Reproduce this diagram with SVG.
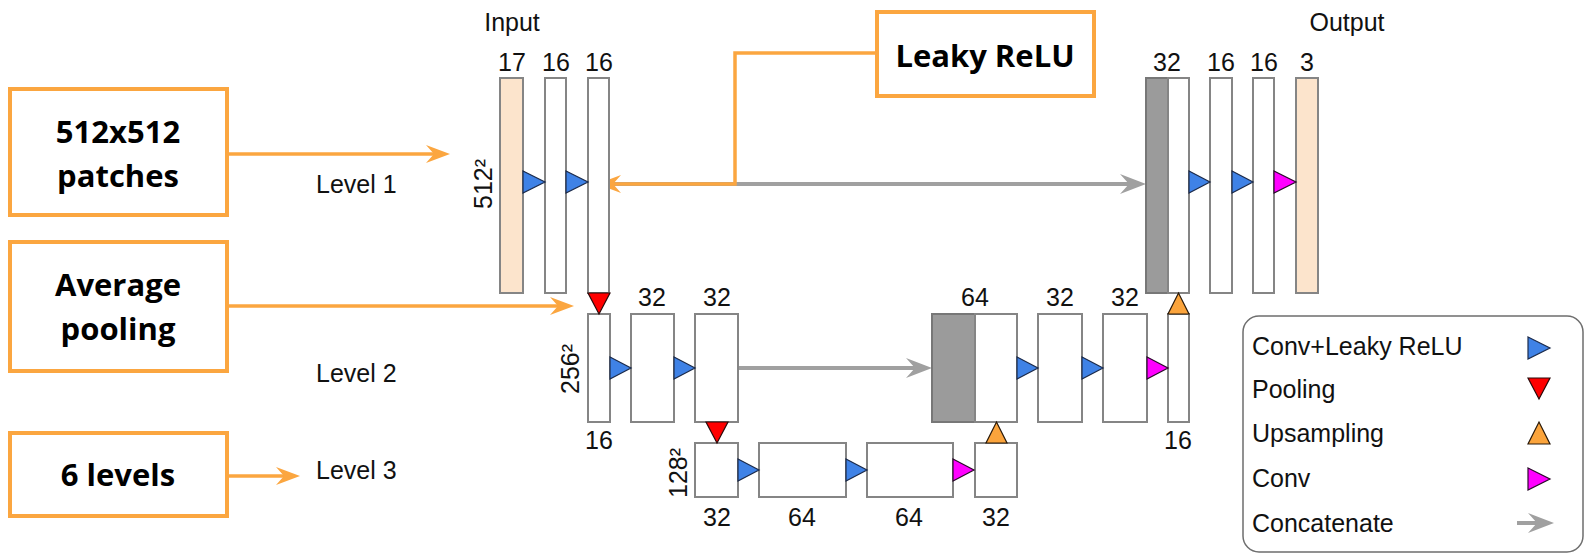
<svg xmlns="http://www.w3.org/2000/svg" width="1584" height="554" viewBox="0 0 1584 554">
  <style>
    .lbl { font-family: "Liberation Sans", Arial, sans-serif; font-size: 25px; fill: #111; }
    .mid { text-anchor: middle; }
    .note { font-family: "Open Sans", "Liberation Sans", sans-serif; font-weight: bold; font-size: 31px; fill: #000; text-anchor: middle; }
    .notebox { fill: #fff; stroke: #FBA640; stroke-width: 4; }
    .blk { fill: #fff; stroke: #858585; stroke-width: 2; }
    .io { fill: #FCE4CC; stroke: #858585; stroke-width: 2; }
    .cat { fill: #9B9B9B; stroke: #777; stroke-width: 2; }
    .conv { fill: #3F82E6; stroke: #1B2A4A; stroke-width: 1.2; }
    .pool { fill: #FF0000; stroke: #2A0A0A; stroke-width: 1.2; }
    .up { fill: #FBA43C; stroke: #2A1A0A; stroke-width: 1.2; }
    .cv { fill: #FF00FF; stroke: #2A0A2A; stroke-width: 1.2; }
    .orange { fill: none; stroke: #FBA640; stroke-width: 3.5; }
    .gray { fill: none; stroke: #A0A0A0; stroke-width: 4; }
  </style>
  <defs>
    <marker id="ahOrange" viewBox="0 0 24 20" refX="16" refY="10" markerWidth="24" markerHeight="20" markerUnits="userSpaceOnUse" orient="auto">
      <path d="M0,1 L24,10 L0,19 L8,10 Z" fill="#FBA640"/>
    </marker>
    <marker id="ahGray" viewBox="0 0 26 22" refX="18" refY="11" markerWidth="26" markerHeight="22" markerUnits="userSpaceOnUse" orient="auto">
      <path d="M0,1 L26,11 L0,21 L9,11 Z" fill="#A0A0A0"/>
    </marker>
  </defs>

  <!-- annotation boxes -->
  <g id="note-patches">
    <rect class="notebox" x="10" y="89" width="217" height="126"/>
    <text class="note" x="118" y="143">512x512</text>
    <text class="note" x="118" y="187">patches</text>
  </g>
  <g id="note-pooling">
    <rect class="notebox" x="10" y="242" width="217" height="129"/>
    <text class="note" x="118" y="296">Average</text>
    <text class="note" x="118" y="340">pooling</text>
  </g>
  <g id="note-levels">
    <rect class="notebox" x="10" y="433" width="217" height="83"/>
    <text class="note" x="118" y="486">6 levels</text>
  </g>
  <g id="note-relu">
    <rect class="notebox" x="877" y="12" width="217" height="84"/>
    <text class="note" x="985" y="67">Leaky ReLU</text>
  </g>

  <!-- level captions -->
  <g id="level-labels">
    <text class="lbl" x="316" y="193">Level 1</text>
    <text class="lbl" x="316" y="382">Level 2</text>
    <text class="lbl" x="316" y="479">Level 3</text>
  </g>

  <!-- skip connections and annotation pointers -->
  <g id="connectors">
    <line class="gray" x1="609" y1="184" x2="1138" y2="184" marker-end="url(#ahGray)"/>
    <line class="gray" x1="738" y1="368" x2="924" y2="368" marker-end="url(#ahGray)"/>
    <line class="orange" x1="227" y1="154" x2="442" y2="154" marker-end="url(#ahOrange)"/>
    <line class="orange" x1="227" y1="306" x2="566" y2="306" marker-end="url(#ahOrange)"/>
    <line class="orange" x1="227" y1="476" x2="292" y2="476" marker-end="url(#ahOrange)"/>
    <polyline class="orange" points="877,53 735,53 735,184 605,184" marker-end="url(#ahOrange)"/>
  </g>

  <!-- encoder, level 1 -->
  <g id="input-17">
    <text class="lbl mid" x="512" y="31">Input</text>
    <text class="lbl mid" x="512" y="71">17</text>
    <rect class="io" x="500" y="78" width="23" height="215"/>
    <text class="lbl mid" transform="translate(492,184) rotate(-90)">512²</text>
  </g>
  <g id="enc1-a">
    <text class="lbl mid" x="556" y="71">16</text>
    <rect class="blk" x="545" y="78" width="21" height="215"/>
  </g>
  <g id="enc1-b">
    <text class="lbl mid" x="599" y="71">16</text>
    <rect class="blk" x="588" y="78" width="21" height="215"/>
  </g>

  <!-- encoder, level 2 -->
  <g id="enc2-a">
    <rect class="blk" x="588" y="314" width="22" height="108"/>
    <text class="lbl mid" x="599" y="449">16</text>
    <text class="lbl mid" transform="translate(579,369) rotate(-90)">256²</text>
  </g>
  <g id="enc2-b">
    <text class="lbl mid" x="652" y="306">32</text>
    <rect class="blk" x="631" y="314" width="43" height="108"/>
  </g>
  <g id="enc2-c">
    <text class="lbl mid" x="717" y="306">32</text>
    <rect class="blk" x="695" y="314" width="43" height="108"/>
  </g>

  <!-- bottleneck, level 3 -->
  <g id="mid3-a">
    <rect class="blk" x="695" y="443" width="43" height="54"/>
    <text class="lbl mid" x="717" y="526">32</text>
    <text class="lbl mid" transform="translate(687,473) rotate(-90)">128²</text>
  </g>
  <g id="mid3-b">
    <rect class="blk" x="759" y="443" width="87" height="54"/>
    <text class="lbl mid" x="802" y="526">64</text>
  </g>
  <g id="mid3-c">
    <rect class="blk" x="867" y="443" width="86" height="54"/>
    <text class="lbl mid" x="909" y="526">64</text>
  </g>
  <g id="mid3-d">
    <rect class="blk" x="975" y="443" width="42" height="54"/>
    <text class="lbl mid" x="996" y="526">32</text>
  </g>

  <!-- decoder, level 2 -->
  <g id="dec2-cat">
    <text class="lbl mid" x="975" y="306">64</text>
    <rect class="cat" x="932" y="314" width="43" height="108"/>
    <rect class="blk" x="975" y="314" width="42" height="108"/>
  </g>
  <g id="dec2-b">
    <text class="lbl mid" x="1060" y="306">32</text>
    <rect class="blk" x="1038" y="314" width="44" height="108"/>
  </g>
  <g id="dec2-c">
    <text class="lbl mid" x="1125" y="306">32</text>
    <rect class="blk" x="1103" y="314" width="44" height="108"/>
  </g>
  <g id="dec2-d">
    <rect class="blk" x="1168" y="314" width="21" height="108"/>
    <text class="lbl mid" x="1178" y="449">16</text>
  </g>

  <!-- decoder, level 1 -->
  <g id="dec1-cat">
    <text class="lbl mid" x="1167" y="71">32</text>
    <rect class="cat" x="1146" y="78" width="22" height="215"/>
    <rect class="blk" x="1168" y="78" width="21" height="215"/>
  </g>
  <g id="dec1-b">
    <text class="lbl mid" x="1221" y="71">16</text>
    <rect class="blk" x="1210" y="78" width="22" height="215"/>
  </g>
  <g id="dec1-c">
    <text class="lbl mid" x="1264" y="71">16</text>
    <rect class="blk" x="1253" y="78" width="21" height="215"/>
  </g>
  <g id="output-3">
    <text class="lbl mid" x="1347" y="31">Output</text>
    <text class="lbl mid" x="1307" y="71">3</text>
    <rect class="io" x="1296" y="78" width="22" height="215"/>
  </g>

  <!-- operation markers between blocks -->
  <g id="ops">
    <polygon class="conv" points="523,171 545,182 523,193"/>
    <polygon class="conv" points="566,171 588,182 566,193"/>
    <polygon class="conv" points="1189,171 1210,182 1189,193"/>
    <polygon class="conv" points="1232,171 1253,182 1232,193"/>
    <polygon class="cv" points="1274,171 1296,182 1274,193"/>

    <polygon class="conv" points="610,357 631,368 610,379"/>
    <polygon class="conv" points="674,357 695,368 674,379"/>
    <polygon class="conv" points="1017,357 1038,368 1017,379"/>
    <polygon class="conv" points="1082,357 1103,368 1082,379"/>
    <polygon class="cv" points="1147,357 1168,368 1147,379"/>

    <polygon class="conv" points="738,459 759,470 738,481"/>
    <polygon class="conv" points="846,459 867,470 846,481"/>
    <polygon class="cv" points="953,459 974,470 953,481"/>

    <polygon class="pool" points="588,293 610,293 599,314"/>
    <polygon class="pool" points="706,422 728,422 717,443"/>
    <polygon class="up" points="1168,314 1189,314 1178.5,293"/>
    <polygon class="up" points="986,443 1007,443 996.5,422"/>
  </g>

  <!-- legend -->
  <g id="legend">
    <rect x="1243" y="316" width="340" height="236" rx="16" fill="#fff" stroke="#6E6E6E" stroke-width="1.5"/>
    <text class="lbl" x="1252" y="355">Conv+Leaky ReLU</text>
    <text class="lbl" x="1252" y="398">Pooling</text>
    <text class="lbl" x="1252" y="442">Upsampling</text>
    <text class="lbl" x="1252" y="487">Conv</text>
    <text class="lbl" x="1252" y="532">Concatenate</text>
    <polygon class="conv" points="1528,337 1550,348 1528,359"/>
    <polygon class="pool" points="1528,378 1550,378 1539,399"/>
    <polygon class="up" points="1528,444 1550,444 1539,422"/>
    <polygon class="cv" points="1528,468 1550,479 1528,490"/>
    <line class="gray" x1="1517" y1="523" x2="1546" y2="523" marker-end="url(#ahGray)"/>
  </g>
</svg>
